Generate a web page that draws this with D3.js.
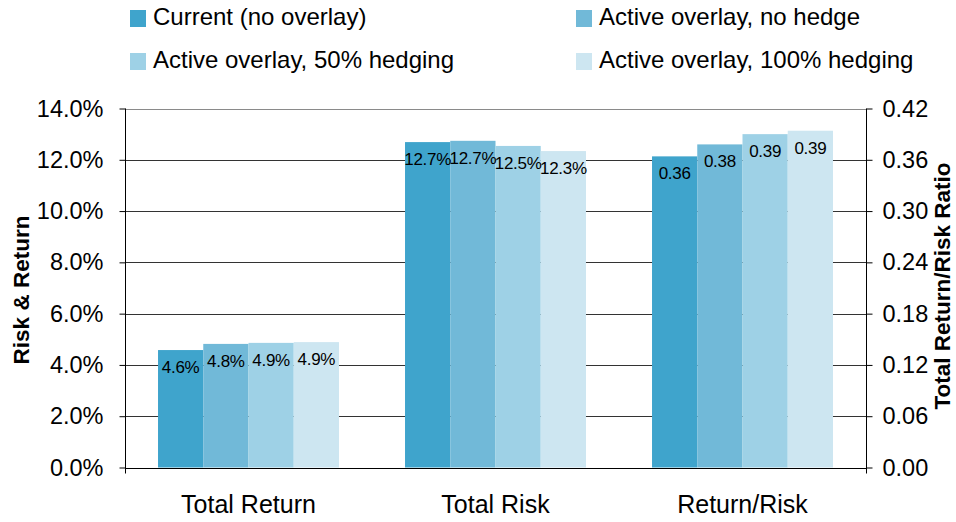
<!DOCTYPE html>
<html>
<head>
<meta charset="utf-8">
<script src="https://cdn.jsdelivr.net/npm/d3@7"></script>
<style>
  body { margin: 0; background: #fff; }
  svg { display: block; }
  text { font-family: "Liberation Sans", Arial, sans-serif; fill: #000; }
</style>
</head>
<body>
<svg id="chart" width="956" height="522"></svg>
<script>
// Categories on the x axis and the four strategy series
const categories = ["Total Return", "Total Risk", "Return/Risk"];
const seriesNames = [
  "Current (no overlay)",
  "Active overlay, no hedge",
  "Active overlay, 50% hedging",
  "Active overlay, 100% hedging"
];
const seriesColors = ["#3fa4cc", "#71b9d8", "#9ed1e6", "#cde6f1"];

// Values per category, one entry per series
const totalReturn = [4.58, 4.82, 4.86, 4.89];     // percent, left axis
const totalRisk   = [12.69, 12.74, 12.54, 12.34]; // percent, left axis
const returnRisk  = [0.364, 0.378, 0.390, 0.394]; // ratio, right axis

// Axis ticks
const leftTicks  = [0, 2, 4, 6, 8, 10, 12, 14];
const rightTicks = [0, 0.06, 0.12, 0.18, 0.24, 0.30, 0.36, 0.42];

const svg = d3.select("#chart");
const plot = { left: 125, right: 866, top: 108.5, bottom: 467.5 };

const yL = d3.scaleLinear().domain([0, 14]).range([plot.bottom, plot.top]);
const yR = d3.scaleLinear().domain([0, 0.42]).range([plot.bottom, plot.top]);

const x0 = d3.scaleBand().domain(categories).range([plot.left, plot.right]).padding(0);
const x1 = d3.scaleBand().domain(seriesNames).range([0, x0.bandwidth()])
  .paddingInner(0).paddingOuter(0.73);

const fmtPct = d => d3.format(".1f")(d) + "%";
const fmtRatio = d3.format(".2f");

const groups = [
  { cat: "Total Return", values: totalReturn, y: yL, fmt: fmtPct },
  { cat: "Total Risk",   values: totalRisk,   y: yL, fmt: fmtPct },
  { cat: "Return/Risk",  values: returnRisk,  y: yR, fmt: fmtRatio }
];
const bars = groups.flatMap(g => g.values.map((v, i) => ({
  cat: g.cat, series: seriesNames[i], color: seriesColors[i], value: v, y: g.y, fmt: g.fmt
})));

// Horizontal gridlines
svg.append("g").selectAll("line").data(leftTicks).join("line")
  .attr("x1", plot.left).attr("x2", plot.right)
  .attr("y1", d => Math.round(yL(d)) + 0.5).attr("y2", d => Math.round(yL(d)) + 0.5)
  .attr("stroke", d => d === 14 ? "#8a8a8a" : "#333")
  .attr("stroke-width", 1);

// Bars
svg.append("g").selectAll("rect").data(bars).join("rect")
  .attr("x", d => x0(d.cat) + x1(d.series))
  .attr("width", x1.bandwidth())
  .attr("y", d => d.y(d.value))
  .attr("height", d => plot.bottom - d.y(d.value))
  .attr("fill", d => d.color);

// Value labels inside the top of each bar
svg.append("g").selectAll("text").data(bars).join("text")
  .attr("x", d => x0(d.cat) + x1(d.series) + x1.bandwidth() / 2)
  .attr("y", d => d.y(d.value) + 23)
  .attr("text-anchor", "middle")
  .style("font-size", "17px")
  .style("letter-spacing", "-0.3px")
  .text(d => d.fmt(d.value));

// Left axis
const axL = svg.append("g").attr("transform", `translate(${plot.left + 0.5},0)`)
  .call(d3.axisLeft(yL).tickValues(leftTicks).tickFormat(fmtPct).tickSize(6).tickSizeOuter(0).tickPadding(16));
// Right axis
const axR = svg.append("g").attr("transform", `translate(${plot.right + 0.5},0)`)
  .call(d3.axisRight(yR).tickValues(rightTicks).tickFormat(fmtRatio).tickSize(6).tickSizeOuter(0).tickPadding(10));

[axL, axR].forEach(ax => {
  ax.select(".domain").remove();
  ax.selectAll(".tick line").attr("stroke", "#000");
  ax.selectAll(".tick text").style("font-size", "23.5px").attr("fill", "#000")
    .attr("font-family", null);
  ax.append("line").attr("x1", 0).attr("x2", 0)
    .attr("y1", plot.top).attr("y2", plot.bottom + 6).attr("stroke", "#000");
});

// Baseline
svg.append("line")
  .attr("x1", plot.left).attr("x2", plot.right + 1)
  .attr("y1", Math.round(plot.bottom) + 0.5).attr("y2", Math.round(plot.bottom) + 0.5)
  .attr("stroke", "#000");

// Category labels
svg.append("g").selectAll("text").data(categories).join("text")
  .attr("x", d => x0(d) + x0.bandwidth() / 2)
  .attr("y", 513)
  .attr("text-anchor", "middle")
  .style("font-size", "25px")
  .text(d => d);

// Axis titles
svg.append("text")
  .attr("transform", `translate(29,${(plot.top + plot.bottom) / 2 + 2}) rotate(-90)`)
  .attr("text-anchor", "middle")
  .style("font-size", "22.5px").style("font-weight", "bold")
  .text("Risk & Return");
svg.append("text")
  .attr("transform", `translate(950,${(plot.top + plot.bottom) / 2 - 2}) rotate(-90)`)
  .attr("text-anchor", "middle")
  .style("font-size", "22.5px").style("font-weight", "bold")
  .text("Total Return/Risk Ratio");

// Legend, two columns by two rows
const legendPos = [[130, 10], [576, 10], [130, 53], [576, 53]];
const legend = svg.append("g").selectAll("g").data(seriesNames).join("g")
  .attr("transform", (d, i) => `translate(${legendPos[i][0]},${legendPos[i][1]})`);
legend.append("rect").attr("width", 16).attr("height", 17)
  .attr("fill", (d, i) => seriesColors[i]);
legend.append("text").attr("x", 23).attr("y", 15)
  .style("font-size", "24px")
  .text(d => d);
</script>
</body>
</html>
